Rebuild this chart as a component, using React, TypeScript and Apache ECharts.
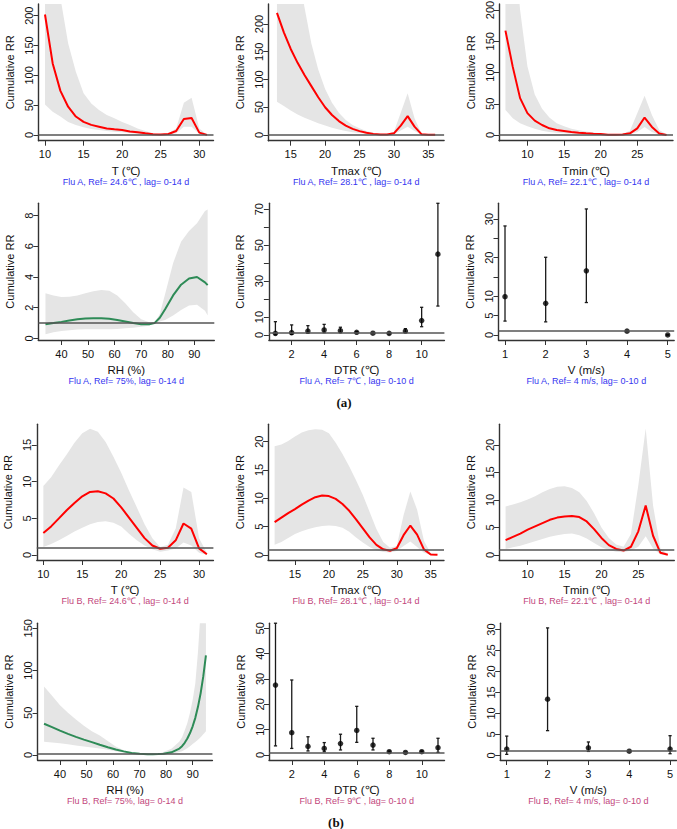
import React, { useEffect, useRef } from "react";
import * as echarts from "echarts";

// ---------- DATA ----------
// Flu A
const xT = [10, 11, 12, 13, 14, 15, 16, 17, 18, 19, 20, 21, 22, 23, 24, 25, 26, 27, 28, 29, 30, 31];
const aT_rr = [202, 120, 74, 47.5, 31, 22, 17, 14, 11, 9.5, 8.4, 6, 4.5, 2.8, 1.5, 1, 1.7, 6.7, 27, 28.5, 4, 0.3];
const aT_hi = [450, 320, 230, 154, 106, 70, 53, 42, 33.5, 28, 22, 17, 11, 6.7, 2.8, 1.2, 3, 11, 54, 62.6, 11, 0.6];
const aT_lo = [51, 39, 31, 22, 17, 13, 10, 8.4, 6.7, 5.6, 4.5, 3.4, 2.2, 1.7, 0.8, 0.6, 0.8, 2.8, 14, 14, 1.7, 0.1];

const xTmaxA = [13, 14, 15, 16, 17, 18, 19, 20, 21, 22, 23, 24, 25, 26, 27, 28, 29, 30, 31, 32, 33, 34, 35, 36];
const aTmax_rr = [220, 185, 155, 130, 108, 88, 68, 50, 36, 25, 17, 11, 7, 4, 2, 1, 1, 3, 17, 34, 15, 1.5, 0.6, 0.4];
const aTmax_hi = [600, 480, 380, 300, 230, 165, 118, 83, 58, 40, 27, 18, 12, 7, 4, 2, 1.5, 6, 40, 75, 30, 2.5, 1, 0.8];
const aTmax_lo = [60, 52, 44, 37, 31, 26, 21, 17, 13, 10, 7, 5, 3.5, 2.2, 1.3, 0.8, 0.6, 1.5, 8, 15, 7, 0.8, 0.2, 0.1];

const xTmin = [7, 8, 9, 10, 11, 12, 13, 14, 15, 16, 17, 18, 19, 20, 21, 22, 23, 24, 25, 26, 27, 28, 29];
const aTmin_rr = [167, 109, 59, 35, 23, 16, 10.7, 8, 6.4, 4.8, 3.7, 2.7, 2, 1.6, 0.5, 0.3, 0.7, 2.7, 10.7, 28, 13, 2.5, 0.1];
const aTmin_hi = [500, 330, 200, 110, 65, 42, 28, 19, 14, 10, 7.5, 5.5, 4, 2.8, 1.5, 1, 2, 7, 35, 63, 32, 8, 1];
const aTmin_lo = [40, 27, 19, 14, 10, 7, 5, 3.8, 2.9, 2.2, 1.7, 1.3, 1, 0.7, 0.3, 0.1, 0.3, 1.3, 5, 13, 5, 0.7, 0.05];

const xRHA = [34, 37, 40, 43, 46, 49, 52, 55, 58, 61, 64, 67, 70, 73, 75, 77, 79, 82, 85, 88, 91, 94, 95];
const aRH_rr = [0.93, 1.0, 1.08, 1.17, 1.25, 1.3, 1.32, 1.32, 1.28, 1.2, 1.1, 1.0, 0.93, 0.92, 1.0, 1.35, 1.9, 2.8, 3.5, 3.9, 4.0, 3.65, 3.47];
const aRH_hi = [2.95, 2.8, 2.7, 2.72, 2.8, 2.95, 3.08, 3.15, 3.1, 2.8, 2.3, 1.7, 1.25, 1.05, 1.0, 1.6, 2.9, 4.9, 6.3, 7.0, 7.5, 8.3, 8.4];
const aRH_lo = [0.28, 0.4, 0.48, 0.54, 0.58, 0.6, 0.6, 0.6, 0.6, 0.62, 0.66, 0.7, 0.76, 0.82, 1.0, 1.1, 1.2, 1.5, 1.85, 2.15, 2.2, 1.8, 1.5];

const xDTR = [1, 2, 3, 4, 5, 6, 7, 8, 9, 10, 11];
const aDTR_rr = [0.9, 1.3, 2.2, 2.8, 2.4, 1.5, 1.0, 0.9, 2.2, 8.0, 45];
const aDTR_lo = [0.1, 0.3, 0.9, 1.3, 1.3, 1.1, 1.0, 0.6, 1.4, 4.6, 16.1];
const aDTR_hi = [7.4, 5.6, 5.2, 5.9, 4.3, 1.9, 1.0, 1.1, 3.5, 15.4, 73.3];

const xV = [1, 2, 3, 4, 5];
const aV_rr = [9.9, 8.2, 16.6, 1.0, 0.02];
const aV_lo = [3.6, 3.4, 8.4, 1.0, 0.02];
const aV_hi = [28.2, 20.1, 32.6, 1.0, 0.02];

// Flu B
const bT_rr = [3.0, 3.9, 5.0, 6.1, 7.1, 8.0, 8.6, 8.7, 8.4, 7.7, 6.5, 5.1, 3.7, 2.3, 1.3, 0.85, 1.0, 2.0, 4.3, 3.6, 0.9, 0.1];
const bT_hi = [9.4, 10.6, 12.2, 13.7, 15.3, 16.6, 17.2, 16.8, 15.4, 13.4, 11.2, 8.8, 6.5, 4.2, 2.3, 1.1, 1.4, 3.6, 9.2, 8.6, 2.3, 0.3];
const bT_lo = [1.1, 1.5, 2.0, 2.6, 3.2, 3.7, 4.2, 4.5, 4.6, 4.4, 3.9, 2.9, 2.0, 1.3, 0.8, 0.45, 0.6, 0.9, 1.7, 1.3, 0.3, 0.03];

const xTmaxB = [12, 13, 14, 15, 16, 17, 18, 19, 20, 21, 22, 23, 24, 25, 26, 27, 28, 29, 30, 31, 32, 33, 34, 35, 36];
const bTmax_rr = [5.8, 6.6, 7.4, 8.1, 8.9, 9.6, 10.2, 10.5, 10.4, 9.9, 9.0, 7.8, 6.3, 4.7, 3.1, 1.8, 1.0, 0.76, 1.2, 3.5, 5.2, 3.6, 1.0, 0.1, 0.05];
const bTmax_hi = [19.2, 19.5, 20.1, 20.9, 21.6, 22.0, 22.2, 22.1, 21.5, 19.8, 17.8, 15.6, 13.2, 10.6, 7.6, 4.6, 2.3, 1.3, 1.6, 7, 11.2, 8, 2.5, 0.3, 0.1];
const bTmax_lo = [1.8, 2.3, 3.0, 3.7, 4.2, 4.6, 4.9, 5.1, 5.2, 5.1, 4.8, 4.1, 3.1, 2.2, 1.4, 0.85, 0.55, 0.45, 0.7, 1.6, 2.4, 1.4, 0.4, 0.05, 0.02];

const bTmin_rr = [2.7, 3.3, 3.9, 4.6, 5.2, 5.8, 6.4, 6.8, 7.0, 7.1, 6.9, 6.1, 4.7, 3.1, 1.8, 1.1, 0.8, 1.5, 4.3, 9.0, 3.5, 0.4, 0.05];
const bTmin_hi = [8.8, 9.2, 9.6, 10.1, 10.7, 11.4, 12.0, 12.4, 12.5, 12.2, 11.4, 9.8, 7.6, 5.0, 3.1, 1.9, 1.5, 3.8, 12.7, 23, 9, 1.2, 0.2];
const bTmin_lo = [1.1, 1.4, 1.7, 2.1, 2.5, 2.9, 3.3, 3.6, 3.8, 3.9, 3.6, 3.0, 2.2, 1.4, 0.9, 0.6, 0.5, 0.8, 1.5, 3.4, 1.2, 0.1, 0.02];

const xRHB = [34, 37, 40, 43, 46, 49, 52, 55, 58, 61, 64, 67, 70, 73, 75, 77, 79, 82, 85, 86, 87, 88, 89, 90, 91, 92, 93, 94, 95];
const bRH_rr = [37, 33, 28.8, 25, 21.5, 18.2, 15.3, 12.2, 9.2, 6.5, 4.3, 2.5, 1.4, 1.05, 1.0, 1.1, 1.6, 3.2, 7.6, 10.5, 14.5, 19.5, 26, 34, 44, 57, 73, 93, 118];
const bRH_hi = [81, 70, 59, 50, 42, 34.5, 28, 23, 16.5, 10, 5.5, 3, 2, 1.5, 1.0, 1.5, 3.5, 7.5, 16, 21, 29, 38, 50, 65, 85, 122, 170, 230, 290];
const bRH_lo = [15.8, 14.8, 13.8, 12.6, 11.4, 10.2, 9.0, 7.7, 6.2, 4.6, 3.0, 1.8, 1.0, 0.8, 1.0, 0.8, 0.9, 1.6, 3.5, 4.6, 6.2, 8, 10.5, 13, 15.5, 18, 21, 24.5, 28];

const bDTR_rr = [27.6, 8.8, 3.4, 2.6, 4.5, 9.7, 3.9, 1.3, 1.0, 1.3, 2.9];
const bDTR_lo = [3.6, 2.6, 1.6, 1.3, 2.0, 5.0, 2.0, 1.05, 1.0, 1.05, 1.05];
const bDTR_hi = [52, 29.6, 7.2, 4.9, 8.2, 19.2, 6.6, 1.6, 1.0, 1.6, 6.6];

const bV_rr = [1.5, 13.4, 1.8, 1.0, 1.5];
const bV_lo = [0.24, 5.9, 0.95, 1.0, 0.4];
const bV_hi = [4.6, 30.4, 3.2, 1.0, 4.7];

// tick values
const ticksT = [10, 15, 20, 25, 30];
const ticksTmax = [15, 20, 25, 30, 35];
const ticksTmin = [10, 15, 20, 25];
const ticksRH = [40, 50, 60, 70, 80, 90];
const ticksDTR = [2, 4, 6, 8, 10];
const ticksV = [1, 2, 3, 4, 5];
const yT200 = [0, 50, 100, 150, 200];
const yRH8 = [0, 2, 4, 6, 8];
const yDTR70 = [0, 10, 20, 30, 40, 50, 60, 70];
const yDTR70lab = [0, 10, 30, 50, 70];
const yV30 = [0, 5, 10, 15, 20, 25, 30];
const yV30lab = [0, 5, 10, 20, 30];
const y15 = [0, 5, 10, 15];
const y20 = [0, 5, 10, 15, 20];
const y150 = [0, 50, 100, 150];
const y50 = [0, 10, 20, 30, 40, 50];

const COL_A = "#3535f0";
const COL_B = "#c2467c";
const RED = "#ff0000";
const GREEN = "#2e8b57";
const BAND = "#e5e5e5";

type Panel = {
  left: number; top: number; width: number; height: number;
  xMin: number; xMax: number; yMin: number; yMax: number;
  xTicks: number[]; yTicks: number[]; yLabels?: number[];
  xName: string; caption: string; capColor: string;
  kind: "band" | "bar"; color?: string;
  x: number[]; rr: number[]; lo: number[]; hi: number[];
};

const R1 = { top: 4, h: 136.7 };
const R2 = { top: 203.3, h: 136.7 };
const R3 = { top: 424.3, h: 135.7 };
const R4 = { top: 623.3, h: 136.7 };

const panels: Panel[] = [
  { left: 38.5, width: 175, top: R1.top, height: R1.h, xMin: 9.16, xMax: 31.84, yMin: -9.5, yMax: 219.6, xTicks: ticksT, yTicks: yT200, xName: "T (℃)", caption: "Flu A, Ref= 24.6℃ , lag= 0-14 d", capColor: COL_A, kind: "band", color: RED, x: xT, rr: aT_rr, lo: aT_lo, hi: aT_hi },
  { left: 268.3, width: 175.8, top: R1.top, height: R1.h, xMin: 11.74, xMax: 37.3, yMin: -10.3, yMax: 236, xTicks: ticksTmax, yTicks: yT200, xName: "Tmax (℃)", caption: "Flu A, Ref= 28.1℃ , lag= 0-14 d", capColor: COL_A, kind: "band", color: RED, x: xTmaxA, rr: aTmax_rr, lo: aTmax_lo, hi: aTmax_hi },
  { left: 499, width: 174, top: R1.top, height: R1.h, xMin: 6.12, xMax: 29.88, yMin: -9.1, yMax: 209.6, xTicks: ticksTmin, yTicks: yT200, xName: "Tmin (℃)", caption: "Flu A, Ref= 22.1℃ , lag= 0-14 d", capColor: COL_A, kind: "band", color: RED, x: xTmin, rr: aTmin_rr, lo: aTmin_lo, hi: aTmin_hi },
  { left: 38.3, width: 176, top: R2.top, height: R2.h, xMin: 31.3, xMax: 97.5, yMin: -0.1, yMax: 8.8, xTicks: ticksRH, yTicks: yRH8, xName: "RH (%)", caption: "Flu A, Ref= 75%, lag= 0-14 d", capColor: COL_A, kind: "band", color: GREEN, x: xRHA, rr: aRH_rr, lo: aRH_lo, hi: aRH_hi },
  { left: 268.9, width: 175.5, top: R2.top, height: R2.h, xMin: 0.6, xMax: 11.4, yMin: -2.8, yMax: 73.3, xTicks: ticksDTR, yTicks: yDTR70, yLabels: yDTR70lab, xName: "DTR (℃)", caption: "Flu A, Ref= 7℃ , lag= 0-10 d", capColor: COL_A, kind: "bar", x: xDTR, rr: aDTR_rr, lo: aDTR_lo, hi: aDTR_hi },
  { left: 498.5, width: 175.7, top: R2.top, height: R2.h, xMin: 0.84, xMax: 5.16, yMin: -1.29, yMax: 34.06, xTicks: ticksV, yTicks: yV30, yLabels: yV30lab, xName: "V (m/s)", caption: "Flu A, Ref= 4 m/s, lag= 0-10 d", capColor: COL_A, kind: "bar", x: xV, rr: aV_rr, lo: aV_lo, hi: aV_hi },
  { left: 36.8, width: 176.6, top: R3.top, height: R3.h, xMin: 9.16, xMax: 31.84, yMin: -0.68, yMax: 17.82, xTicks: ticksT, yTicks: y15, xName: "T (℃)", caption: "Flu B, Ref= 24.6℃ , lag= 0-14 d", capColor: COL_B, kind: "band", color: RED, x: xT, rr: bT_rr, lo: bT_lo, hi: bT_hi },
  { left: 268.1, width: 175.9, top: R3.top, height: R3.h, xMin: 11.04, xMax: 36.96, yMin: -0.88, yMax: 23.06, xTicks: ticksTmax, yTicks: y20, xName: "Tmax (℃)", caption: "Flu B, Ref= 28.1℃ , lag= 0-14 d", capColor: COL_B, kind: "band", color: RED, x: xTmaxB, rr: bTmax_rr, lo: bTmax_lo, hi: bTmax_hi },
  { left: 499.1, width: 175.2, top: R3.top, height: R3.h, xMin: 6.12, xMax: 29.88, yMin: -0.91, yMax: 23.76, xTicks: ticksTmin, yTicks: y20, xName: "Tmin (℃)", caption: "Flu B, Ref= 22.1℃ , lag= 0-14 d", capColor: COL_B, kind: "band", color: RED, x: xTmin, rr: bTmin_rr, lo: bTmin_lo, hi: bTmin_hi },
  { left: 37.6, width: 174.8, top: R4.top, height: R4.h, xMin: 31.56, xMax: 97.44, yMin: -5.9, yMax: 155.9, xTicks: ticksRH, yTicks: y150, xName: "RH (%)", caption: "Flu B, Ref= 75%, lag= 0-14 d", capColor: COL_B, kind: "band", color: GREEN, x: xRHB, rr: bRH_rr, lo: bRH_lo, hi: bRH_hi },
  { left: 269, width: 175.5, top: R4.top, height: R4.h, xMin: 0.6, xMax: 11.4, yMin: -1.97, yMax: 51.97, xTicks: ticksDTR, yTicks: y50, xName: "DTR (℃)", caption: "Flu B, Ref= 9℃ , lag= 0-10 d", capColor: COL_B, kind: "bar", x: xDTR, rr: bDTR_rr, lo: bDTR_lo, hi: bDTR_hi },
  { left: 500.2, width: 176.4, top: R4.top, height: R4.h, xMin: 0.84, xMax: 5.16, yMin: -1.1, yMax: 31.5, xTicks: ticksV, yTicks: yV30, xName: "V (m/s)", caption: "Flu B, Ref= 4 m/s, lag= 0-10 d", capColor: COL_B, kind: "bar", x: xV, rr: bV_rr, lo: bV_lo, hi: bV_hi },
];

const SANS = "'Liberation Sans', Arial, sans-serif";

// clip a pixel polygon to y >= top (keeps the band inside the plot region)
function clipTop(pts: number[][], top: number): number[][] {
  const out: number[][] = [];
  for (let i = 0; i < pts.length; i++) {
    const a = pts[i];
    const b = pts[(i + 1) % pts.length];
    const aIn = a[1] >= top;
    const bIn = b[1] >= top;
    if (aIn) out.push(a);
    if (aIn !== bIn) {
      const t = (top - a[1]) / (b[1] - a[1]);
      out.push([a[0] + t * (b[0] - a[0]), top]);
    }
  }
  return out;
}

function buildOption() {
  const grid: any[] = [];
  const xAxis: any[] = [];
  const yAxis: any[] = [];
  const series: any[] = [];
  const graphic: any[] = [];
  const refLine = {
    silent: true,
    symbol: "none",
    animation: false,
    label: { show: false },
    lineStyle: { color: "#555555", width: 1.6, type: "solid" },
    emphasis: { disabled: true },
    data: [{ yAxis: 1 }],
  };

  panels.forEach((p, i) => {
    grid.push({ left: p.left, top: p.top, width: p.width, height: p.height, containLabel: false, outerBoundsMode: "none" });
    xAxis.push({
      type: "value", gridIndex: i, min: p.xMin, max: p.xMax,
      name: p.xName, nameLocation: "middle", nameGap: 24,
      nameTextStyle: { fontSize: 11.5, color: "#111", fontFamily: SANS },
      axisLine: { show: true, onZero: false, lineStyle: { color: "#333", width: 1.4 } },
      axisTick: { show: true, length: 5, customValues: p.xTicks, lineStyle: { color: "#333", width: 1 } },
      axisLabel: { customValues: p.xTicks, fontSize: 11, color: "#111", margin: 8, fontFamily: SANS },
      splitLine: { show: false },
    });
    yAxis.push({
      type: "value", gridIndex: i, min: p.yMin, max: p.yMax,
      name: "Cumulative RR", nameLocation: "middle", nameGap: 23,
      nameTextStyle: { fontSize: 11, color: "#111", fontFamily: SANS },
      axisLine: { show: true, onZero: false, lineStyle: { color: "#333", width: 1.4 } },
      axisTick: { show: true, length: 5, customValues: p.yTicks, lineStyle: { color: "#333", width: 1 } },
      axisLabel: { customValues: p.yLabels || p.yTicks, fontSize: 11, color: "#111", margin: 4, rotate: 90, fontFamily: SANS },
      splitLine: { show: false },
    });

    if (p.kind === "band") {
      series.push({
        type: "custom", xAxisIndex: i, yAxisIndex: i, silent: true,
        encode: { x: 0, y: [1, 2] },
        data: p.x.map((x, k) => [x, p.lo[k], p.hi[k]]),
        renderItem: (params: any, api: any) => {
          // the whole band is drawn once, as one polygon, from the first item
          if (params.dataIndexInside !== 0) return null;
          const lower: number[][] = [];
          const upper: number[][] = [];
          for (let j = 0; j < 2000; j++) {
            const xv = api.value(0, j);
            if (xv === undefined || xv === null || isNaN(xv)) break;
            lower.push(api.coord([xv, api.value(1, j)]));
            upper.push(api.coord([xv, api.value(2, j)]));
          }
          const pts = lower.concat(upper.reverse());
          const clipped = clipTop(pts, params.coordSys.y);
          if (clipped.length < 3) return null;
          return {
            type: "polygon",
            shape: { points: clipped },
            style: { fill: BAND, stroke: "none" },
          };
        },
        markLine: refLine,
      });
      series.push({
        type: "line", xAxisIndex: i, yAxisIndex: i, symbol: "none", silent: true,
        lineStyle: { color: p.color, width: 2 },
        data: p.x.map((x, k) => [x, p.rr[k]]),
      });
    } else {
      series.push({
        type: "custom", xAxisIndex: i, yAxisIndex: i, silent: true,
        encode: { x: 0, y: [1, 2] },
        data: p.x.map((x, k) => [x, p.lo[k], p.hi[k]]),
        renderItem: (params: any, api: any) => {
          const x = api.value(0);
          const a = api.coord([x, api.value(1)]);
          const b = api.coord([x, api.value(2)]);
          const st = { stroke: "#1a1a1a", lineWidth: 1.3 };
          return {
            type: "group",
            children: [
              { type: "line", shape: { x1: a[0], y1: a[1], x2: b[0], y2: b[1] }, style: st },
              { type: "line", shape: { x1: a[0] - 1.6, y1: a[1], x2: a[0] + 1.6, y2: a[1] }, style: st },
              { type: "line", shape: { x1: b[0] - 1.6, y1: b[1], x2: b[0] + 1.6, y2: b[1] }, style: st },
            ],
          };
        },
        markLine: refLine,
      });
      series.push({
        type: "scatter", xAxisIndex: i, yAxisIndex: i, symbol: "circle", symbolSize: 5.5, silent: true,
        itemStyle: { color: "#000" },
        data: p.x.map((x, k) => [x, p.rr[k]]),
      });
    }

    const bottom = p.top + p.height;
    graphic.push({
      type: "text", x: p.left + p.width / 2, y: bottom + 41,
      style: { text: p.caption, fill: p.capColor, font: `9px ${SANS}`, textAlign: "center", textVerticalAlign: "middle", align: "center", verticalAlign: "middle" },
    });
  });

  graphic.push({
    type: "text", x: 344, y: 402,
    style: { text: "(a)", fill: "#111", font: "bold 13px 'Liberation Serif', serif", textAlign: "center", textVerticalAlign: "middle", align: "center", verticalAlign: "middle" },
  });
  graphic.push({
    type: "text", x: 336, y: 822,
    style: { text: "(b)", fill: "#111", font: "bold 13px 'Liberation Serif', serif", textAlign: "center", textVerticalAlign: "middle", align: "center", verticalAlign: "middle" },
  });

  return { animation: false, backgroundColor: "#ffffff", grid, xAxis, yAxis, series, graphic };
}

export default function App() {
  const ref = useRef<HTMLDivElement>(null);
  useEffect(() => {
    if (!ref.current) return;
    const chart = echarts.init(ref.current, undefined, { renderer: "svg" });
    chart.setOption(buildOption() as any);
    return () => chart.dispose();
  }, []);
  return (
    <div
      ref={ref}
      style={{ position: "absolute", left: 0, top: 0, width: 677, height: 829, background: "#fff" }}
    />
  );
}
